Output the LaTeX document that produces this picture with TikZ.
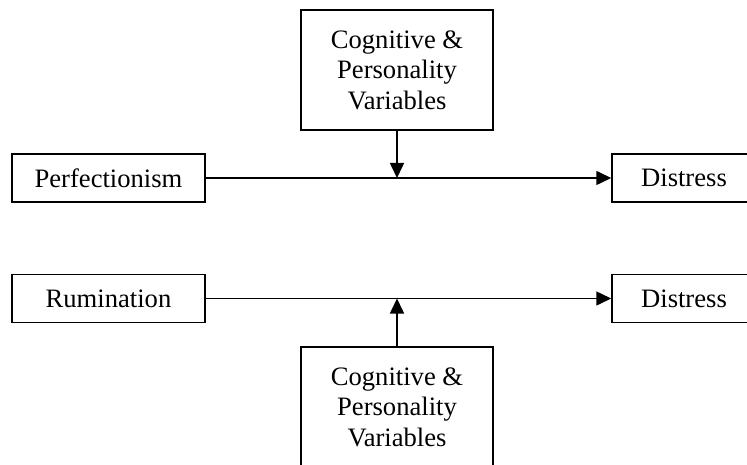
\documentclass[tikz,border=0pt]{standalone}
\usepackage{fontspec}
\setmainfont{Liberation Serif}
\usetikzlibrary{arrows.meta}
\begin{document}
\begin{tikzpicture}[x=1pt,y=1pt,
  box/.style={draw,line width=1.5pt,inner sep=0pt,align=center,
    font=\fontsize{26.6}{30.5}\selectfont},
  smallbox/.style={box,minimum height=48pt},
  cogbox/.style={box,minimum width=192pt,minimum height=120pt},
  conn/.style={line width=1.5pt,-{Triangle[length=15pt,width=14pt]}}]
\useasboundingbox (0,0) rectangle (747,-465);
\clip (0,0) rectangle (747,-465);
\node[smallbox,minimum width=193pt] (perf) at (108.5,-178) {Perfectionism};
\node[smallbox,minimum width=144pt] (dist1) at (684,-178) {Distress};
\node[cogbox] (cog1) at (397,-70) {Cognitive \&\\Personality\\Variables};
\coordinate (m1) at (397,-178);
\draw[conn] (perf.east) -- (dist1.west);
\draw[conn] (cog1.south) -- (m1);
\node[smallbox,minimum width=193pt] (rum) at (108.5,-298.5) {Rumination};
\node[smallbox,minimum width=144pt] (dist2) at (684,-298.5) {Distress};
\node[cogbox] (cog2) at (397,-407) {Cognitive \&\\Personality\\Variables};
\coordinate (m2) at (397,-298.5);
\draw[conn] (rum.east) -- (dist2.west);
\draw[conn] (cog2.north) -- (m2);
\end{tikzpicture}
\end{document}
